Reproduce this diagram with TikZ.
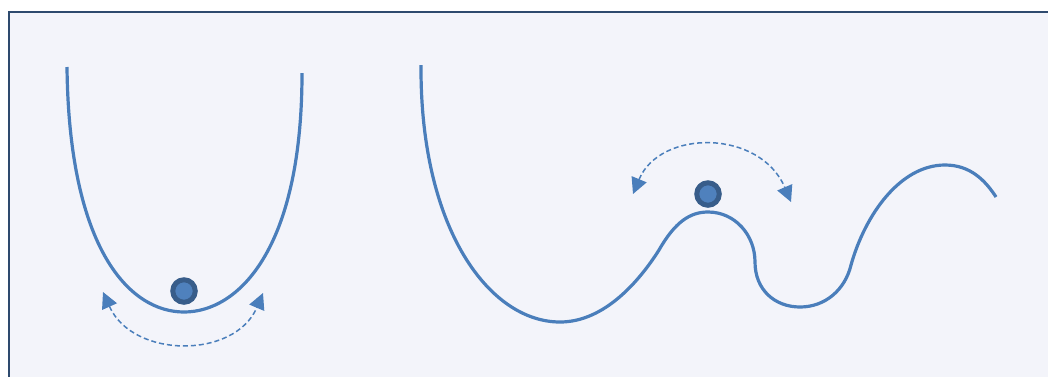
\documentclass[tikz,border=0pt]{standalone}
\usetikzlibrary{arrows.meta}

\definecolor{framebg}{RGB}{243,244,250}
\definecolor{frameline}{RGB}{46,74,110}
\definecolor{curveblue}{RGB}{74,126,187}
\definecolor{ballfill}{RGB}{79,129,189}
\definecolor{ballring}{RGB}{56,93,138}

\begin{document}
\begin{tikzpicture}[
    x=1pt, y=-1pt,
    curve/.style={draw=curveblue, line width=3.2pt},
    ball/.style={circle, draw=ballring, fill=ballfill, line width=5pt, minimum size=22.5pt, inner sep=0pt},
    swing/.style={draw=curveblue, line width=1.5pt, dash pattern=on 5pt off 3pt,
                  {Triangle[length=16pt,width=16pt]}-{Triangle[length=16pt,width=16pt]}}
]
    \useasboundingbox (0,0) rectangle (1048,376);
    \draw[frameline, line width=2pt, fill=framebg] (8.5,12) rectangle (1070,400);

    % single well
    \draw[curve] (67,67) .. controls (69,250) and (130,312) .. (184,312)
                         .. controls (238,312) and (302,250) .. (302,73);
    \node[ball] (ballL) at (184,291) {};
    \coordinate (swingL1) at (103,292);
    \coordinate (swingL2) at (263,293);
    \draw[swing] (swingL1) .. controls (133,359) and (235,359) .. (swingL2);

    % rugged landscape
    \draw[curve] (421,65) .. controls (420,230) and (490,322) .. (560,322)
                          .. controls (605,322) and (640,280) .. (659,250)
                          .. controls (675,222) and (690,212) .. (708,212)
                          .. controls (735,212) and (755,235) .. (755,262)
                          .. controls (755,290) and (775,307) .. (800,307)
                          .. controls (825,307) and (845,290) .. (851,265)
                          .. controls (865,215) and (900,165) .. (945,165)
                          .. controls (970,165) and (985,180) .. (996,197);
    \node[ball] (ballR) at (708,194) {};
    \coordinate (swingR1) at (633,194);
    \coordinate (swingR2) at (791,202);
    \draw[swing] (swingR1) .. controls (660,129) and (760,129) .. (swingR2);
\end{tikzpicture}
\end{document}
